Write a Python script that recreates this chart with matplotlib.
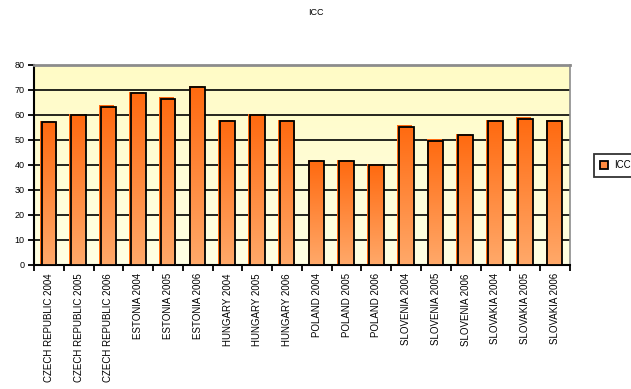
import numpy as np
import matplotlib
matplotlib.use("Agg")
from matplotlib import pyplot as plt
from matplotlib.patches import Rectangle

plt.rcParams['font.family'] = ['Liberation Sans', 'DejaVu Sans']

# ICC scores by country and year
categories = ['CZECH REPUBLIC 2004', 'CZECH REPUBLIC 2005', 'CZECH REPUBLIC 2006',
              'ESTONIA 2004', 'ESTONIA 2005', 'ESTONIA 2006',
              'HUNGARY 2004', 'HUNGARY 2005', 'HUNGARY 2006',
              'POLAND 2004', 'POLAND 2005', 'POLAND 2006',
              'SLOVENIA 2004', 'SLOVENIA 2005', 'SLOVENIA 2006',
              'SLOVAKIA 2004', 'SLOVAKIA 2005', 'SLOVAKIA 2006']
icc = [57, 60, 63.3, 68.8, 66.5, 71.2,
       57.6, 60, 57.6,
       41.6, 41.6, 40,
       55.3, 49.7, 52,
       57.6, 58.5, 57.6]
yticks = [0, 10, 20, 30, 40, 50, 60, 70, 80]

fig = plt.figure(figsize=(6.31, 3.89), dpi=100)
ax = fig.add_axes([0.054, 0.319, 0.849, 0.514])

n = len(categories)

# pale yellow plot background
bg = np.linspace(0, 1, 64).reshape(-1, 1)
bg_cmap = matplotlib.colors.LinearSegmentedColormap.from_list('bg', ['#ffffe3', '#fffbc6'])
ax.imshow(bg, cmap=bg_cmap, extent=[-0.5, n - 0.5, 0, 80], origin='lower',
          aspect='auto', zorder=0)

for y in yticks[1:-1]:
    ax.axhline(y, color='black', lw=1.2, zorder=1)

# bars: orange offset shadow, gradient body, black outline
grad = np.linspace(0, 1, 128).reshape(-1, 1)
bar_cmap = matplotlib.colors.LinearSegmentedColormap.from_list('bar', ['#ffa96a', '#ff6a10'])
w = 0.5
for i, v in enumerate(icc):
    ax.add_patch(Rectangle((i - w / 2 - 0.06, 0), w, v + 0.5, facecolor='#ff6a10',
                           edgecolor='none', zorder=2))
    im = ax.imshow(grad, cmap=bar_cmap, extent=[i - w / 2, i + w / 2, 0, v],
                   origin='lower', aspect='auto', zorder=3)
    rect = Rectangle((i - w / 2, 0), w, v, facecolor='none', edgecolor='black',
                     lw=1.3, zorder=4)
    ax.add_patch(rect)
    im.set_clip_path(rect)

ax.set_xlim(-0.5, n - 0.5)
ax.set_ylim(0, 80)

ax.set_yticks(yticks)
ax.set_yticklabels([str(t) for t in yticks], fontsize=6.5)
ax.set_xticks(np.arange(n))
ax.set_xticklabels(categories, rotation=90, fontsize=7)
ax.set_xticks(np.arange(n + 1) - 0.5, minor=True)
ax.tick_params(axis='x', which='major', length=0, pad=6)
ax.tick_params(axis='x', which='minor', length=4, width=1.3, direction='out')
ax.tick_params(axis='y', length=4, width=1.3, direction='out', pad=3)

for side in ['left', 'bottom']:
    ax.spines[side].set_linewidth(1.5)
ax.spines['top'].set_color('#8c8c8c')
ax.spines['top'].set_linewidth(2)
ax.spines['right'].set_color('#8c8c8c')
ax.spines['right'].set_linewidth(1.2)

fig.text(0.5, 0.967, 'ICC', ha='center', va='center', fontsize=6.5)

legend_handle = Rectangle((0, 0), 1, 1, facecolor='#ff8a40', edgecolor='black', lw=1.3)
fig.legend([legend_handle], ['ICC'], loc='center left', bbox_to_anchor=(0.933, 0.575),
           fontsize=7, frameon=True, fancybox=False, edgecolor='black',
           handlelength=0.8, handleheight=0.8, handletextpad=0.6, borderpad=0.7,
           ).get_frame().set_linewidth(1.3)

fig.savefig('out.png', dpi=100)
